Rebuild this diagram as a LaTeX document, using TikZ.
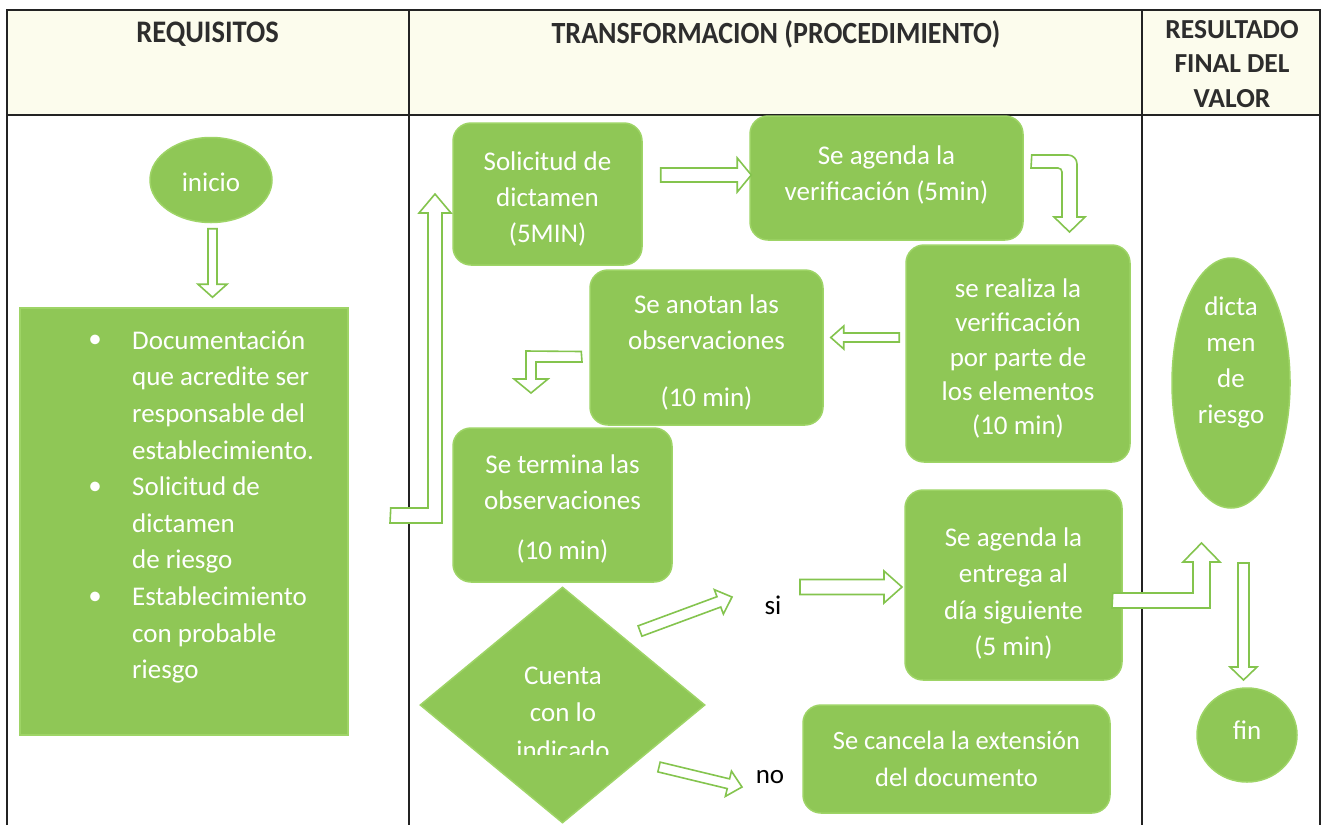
\documentclass[tikz,border=0pt]{standalone}
\usepackage{fontspec}
\setmainfont{Carlito}
\usetikzlibrary{calc,fit,shapes.geometric}
\definecolor{gfill}{RGB}{143,199,86}
\definecolor{gline}{RGB}{158,212,102}
\definecolor{aline}{RGB}{132,196,78}
\definecolor{hdr}{RGB}{252,252,237}
\definecolor{tablec}{RGB}{35,35,35}
\definecolor{hdrink}{RGB}{45,45,45}
\newcommand\blockarr[5]{%
  \coordinate (bah) at ($(#2)!#5!(#1)$);
  \draw[blockarrow] ($(#1)!#3!90:(#2)$) -- ($(bah)!#3!90:(#2)$) -- ($(bah)!#4!90:(#2)$) -- (#2)
    -- ($(bah)!#4!-90:(#2)$) -- ($(bah)!#3!-90:(#2)$) -- ($(#1)!#3!-90:(#2)$) -- cycle;}
\begin{document}
\begin{tikzpicture}[x=1pt,y=-1pt,
  box/.style={draw=gline, line width=1.5pt, fill=gfill, rounded corners=18pt, inner sep=0pt},
  oval/.style={ellipse, draw=gline, line width=1.5pt, fill=gfill, inner sep=0pt},
  wtxt/.style={text=white, align=center, inner sep=0pt, font=\fontsize{27}{36}\selectfont},
  blockarrow/.style={draw=aline, line width=1.6pt, fill=white, line join=miter},
  hdrtxt/.style={text=hdrink, align=center, inner sep=0pt},
  btxt/.style={font=\fontsize{27}{36}\selectfont, text=black, inner sep=0pt},
  tline/.style={draw=tablec, line width=1.3pt}]
\useasboundingbox (0,0) rectangle (1321,825);
\fill[white] (0,0) rectangle (1321,825);
% table
\fill[hdr] (7,10) rectangle (1320,115);
\draw[tline] (7,825) -- (7,10) -- (1320,10) -- (1320,825);
\draw[tline] (7,115) -- (1320,115);
\draw[tline] (409,10) -- (409,825);
\draw[tline] (1142,10) -- (1142,825);
\node[hdrtxt, font=\bfseries\fontsize{28.5}{34}\selectfont] (h1) at (207.5,34) {\scalebox{1}[1.1]{REQUISITOS}};
\node[hdrtxt, font=\bfseries\fontsize{28}{34}\selectfont] (h2) at (776,34) {\scalebox{1}[1.1]{TRANSFORMACION (PROCEDIMIENTO)}};
\node[hdrtxt, font=\bfseries\fontsize{27.5}{34.5}\selectfont] (h3) at (1232,64) {RESULTADO\\FINAL DEL\\VALOR};
% left column
\node[oval, minimum width=122pt, minimum height=85pt] (ini) at (211,180) {};
\node[wtxt] (initxt) at ($(ini.center)+(0,2)$) {inicio};
\node[box, rounded corners=0pt, fit={(20,308) (348,735)}] (req) {};
\node[wtxt, anchor=north west, align=left, font=\fontsize{27}{36.6}\selectfont] (reqtxt) at (132,330.5)
  {Documentación\\que acredite ser\\responsable del\\establecimiento.\\Solicitud de\\dictamen\\de riesgo\\Establecimiento\\con probable\\riesgo};
\node[wtxt] (b1) at (95,341) {•};
\node[wtxt] (b2) at (95,488) {•};
\node[wtxt] (b3) at (95,598) {•};
% middle column
\node[box, fit={(453,123) (642,265)}] (sol) {};
\node[wtxt] (soltxt) at ($(sol.center)+(0,5)$) {Solicitud de\\dictamen\\(5MIN)};
\node[box, fit={(750,116) (1023,240)}] (ag) {};
\node[wtxt] (agtxt) at ($(ag.center)+(0,-3.5)$) {Se agenda la\\verificación (5min)};
\node[box, fit={(906,245) (1130,462)}] (rea) {};
\node[wtxt, font=\fontsize{27}{34.3}\selectfont] (reatxt) at ($(rea.center)+(0,5)$) {se realiza la\\verificación\\por parte de\\los elementos\\(10 min)};
\node[box, fit={(590,270) (823,425)}] (ano) {};
\node[wtxt] (anotxt) at ($(ano.center)+(0,5)$) {Se anotan las\\observaciones\\[21pt](10 min)};
\node[box, fit={(453,428) (672,582)}] (ter) {};
\node[wtxt] (tertxt) at ($(ter.center)+(0,4)$) {Se termina las\\observaciones\\[14pt](10 min)};
\node[diamond, draw=gline, line width=1.5pt, fill=gfill, inner sep=0pt,
  minimum width=285pt, minimum height=236pt] (dec) at (562.5,705) {};
\begin{scope}
\clip (400,560) rectangle (720,754);
\node[wtxt, font=\fontsize{27}{37.5}\selectfont] (dectxt) at (563,713) {Cuenta\\con lo\\indicado};
\end{scope}
\node[box, fit={(905,490) (1122,680)}] (ent) {};
\node[wtxt, font=\fontsize{27}{36.3}\selectfont] (enttxt) at ($(ent.center)+(0,8.5)$) {Se agenda la\\entrega al\\día siguiente\\(5 min)};
\node[box, fit={(803,705) (1110,813)}] (can) {};
\node[wtxt, font=\fontsize{26.5}{37}\selectfont] (cantxt) at ($(can.center)+(0,-0.5)$) {Se cancela la extensión\\del documento};
\node[btxt] (si) at (773,605) {si};
\node[btxt] (no) at (770,777) {no};
% right column
\node[oval, minimum width=118pt, minimum height=250pt] (dic) at (1231,383) {};
\node[wtxt] (dictxt) at (1231,362.5) {dicta\\men\\de\\riesgo};
\node[oval, minimum width=100pt, minimum height=94pt] (fin) at (1247,735) {};
\node[wtxt] (fintxt) at ($(fin.center)+(0,-5)$) {fin};
% straight block arrows
\coordinate (a1s) at ($(ini.south)+(1.5,5.5)$);
\coordinate (a1e) at (a1s |- {$(req.north)+(0,-10)$});
\blockarr{a1s}{a1e}{4.5pt}{14.5pt}{13pt}
\coordinate (a2s) at ($(sol.east)+(18,-19)$);
\coordinate (a2e) at ($(ag.west)+(2,-3)$);
\blockarr{a2s}{a2e}{7pt}{17pt}{14pt}
\coordinate (a3s) at ($(rea.west)+(-6,-16)$);
\coordinate (a3e) at ($(ano.east)+(7,-10)$);
\blockarr{a3s}{a3e}{4.5pt}{11.5pt}{13pt}
\coordinate (a4s) at (640,631);
\coordinate (a4e) at (732,597);
\blockarr{a4s}{a4e}{5.5pt}{13pt}{14pt}
\coordinate (a5s) at (800,587);
\coordinate (a5e) at (902,587);
\blockarr{a5s}{a5e}{7.5pt}{16pt}{18pt}
\coordinate (a6s) at (659,767);
\coordinate (a6e) at (742,787);
\blockarr{a6s}{a6e}{5pt}{13pt}{14pt}
\coordinate (a7s) at (1243.5,563);
\coordinate (a7e) at (1243.5,680);
\blockarr{a7s}{a7e}{5.5pt}{13.5pt}{13pt}
% elbow block arrows
\coordinate (e1) at ($(req.east)+(42,-13.5)$);
\draw[blockarrow] (e1) -- (428,508) -- (428,213) -- (419,213) -- (435,194) -- (451,213) -- (442,213) -- (442,523) -- (390,523) -- cycle;
\coordinate (e2) at ($(ag.east)+(8,-23)$);
\draw[blockarrow] (e2) [rounded corners=9pt] -- (1077,155) [sharp corners] -- (1077,217) -- (1085,217) -- (1069.5,232) -- (1054,217) -- (1062,217) [rounded corners=4pt] -- (1062,168) [sharp corners] -- (1031,168) -- cycle;
\coordinate (e3) at ($(ano.west)+(-8,4)$);
\draw[blockarrow] (e3) -- (526,351) -- (526,379) -- (514,379) -- (531,393) -- (548,379) -- (536,379) -- (536,362) -- (582,362) -- cycle;
\coordinate (e4) at ($(ent.east)+(-10,8)$);
\draw[blockarrow] (e4) -- (1193,593) -- (1193,562) -- (1183,562) -- (1201.5,543) -- (1220,562) -- (1210,562) -- (1210,608) -- (1112,608) -- cycle;
\end{tikzpicture}
\end{document}
